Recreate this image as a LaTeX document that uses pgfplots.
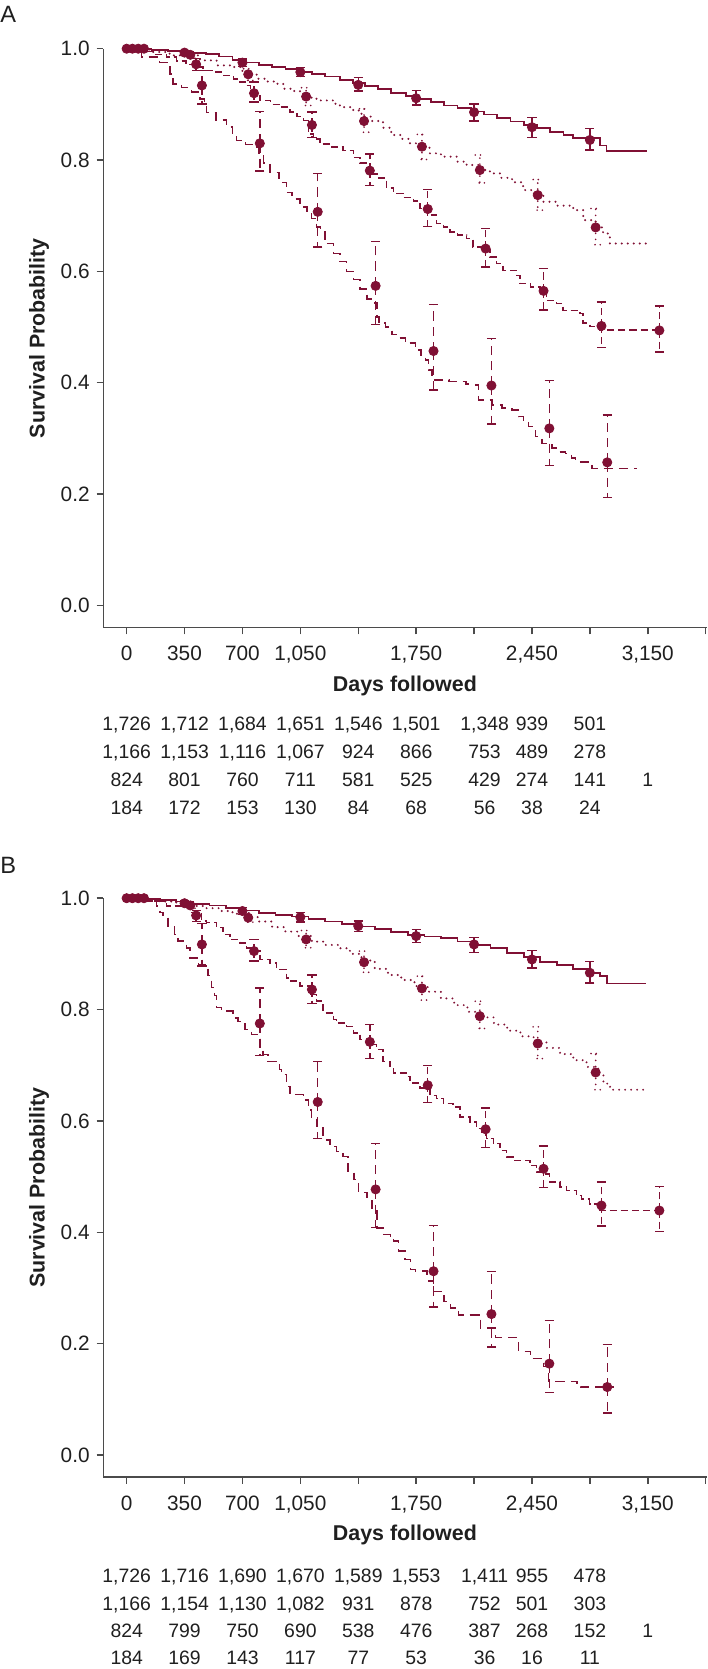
\documentclass[border=0pt]{standalone}
\usepackage{fontspec}
\setmainfont{Liberation Sans}
\usepackage{pgfplots}
\usepackage{pgfplotstable}
\pgfplotsset{compat=1.18}
\definecolor{km}{RGB}{128,16,52}
\definecolor{ax}{RGB}{75,75,75}

% ---------- Panel A ----------
\pgfplotstableread{
x y
0 1.000
60 0.999
150 0.998
250 0.996
330 0.994
400 0.992
480 0.990
560 0.986
640 0.980
720 0.975
800 0.971
880 0.967
960 0.963
1040 0.958
1120 0.954
1200 0.950
1290 0.944
1370 0.938
1440 0.933
1520 0.927
1600 0.921
1690 0.915
1760 0.910
1840 0.904
1920 0.898
2000 0.893
2080 0.887
2160 0.882
2240 0.876
2320 0.869
2400 0.863
2480 0.857
2560 0.851
2640 0.845
2700 0.840
2860 0.826
2900 0.816
3143 0.816
}\AoneL
\pgfplotstableread{
x y
0 1.000
140 0.994
260 0.988
443 0.979
544 0.970
645 0.967
700 0.960
735 0.954
786 0.946
850 0.941
907 0.937
947 0.928
1000 0.924
1048 0.919
1100 0.912
1148 0.907
1249 0.901
1289 0.895
1370 0.889
1420 0.878
1480 0.870
1550 0.858
1600 0.845
1660 0.838
1713 0.830
1780 0.822
1833 0.812
1900 0.806
1995 0.797
2055 0.791
2136 0.782
2196 0.776
2260 0.768
2330 0.760
2397 0.746
2450 0.740
2519 0.725
2600 0.718
2700 0.710
2760 0.692
2835 0.679
2880 0.668
2921 0.650
3143 0.650
}\AtwoL
\pgfplotstableread{
x y
0 1.000
90 0.995
160 0.990
242 0.985
300 0.978
360 0.972
423 0.967
463 0.961
524 0.958
580 0.952
645 0.946
685 0.940
725 0.934
750 0.925
780 0.915
806 0.907
870 0.900
927 0.895
987 0.886
1030 0.878
1068 0.871
1098 0.847
1128 0.838
1168 0.829
1240 0.823
1309 0.817
1370 0.805
1410 0.795
1450 0.784
1490 0.775
1512 0.768
1572 0.750
1612 0.740
1670 0.733
1733 0.726
1773 0.713
1824 0.701
1874 0.686
1914 0.680
1955 0.671
2000 0.665
2055 0.659
2095 0.644
2170 0.638
2195 0.626
2236 0.614
2276 0.602
2357 0.593
2377 0.578
2440 0.572
2498 0.566
2538 0.548
2598 0.542
2639 0.530
2739 0.524
2759 0.507
2800 0.501
2860 0.495
3220 0.495
}\AthreeL
\pgfplotstableread{
x y
0 1.000
90 0.985
200 0.975
262 0.955
280 0.937
332 0.930
393 0.922
443 0.910
470 0.900
483 0.885
540 0.872
604 0.859
640 0.845
665 0.835
720 0.828
766 0.823
800 0.812
826 0.795
866 0.778
920 0.760
967 0.742
1000 0.730
1047 0.716
1090 0.705
1118 0.695
1148 0.680
1172 0.672
1199 0.650
1249 0.632
1290 0.618
1330 0.600
1370 0.585
1410 0.568
1453 0.550
1494 0.543
1514 0.518
1524 0.507
1564 0.500
1604 0.487
1645 0.480
1685 0.471
1745 0.459
1780 0.450
1806 0.441
1826 0.423
1846 0.405
1950 0.402
2050 0.398
2108 0.396
2128 0.369
2209 0.360
2270 0.355
2330 0.351
2370 0.339
2400 0.330
2430 0.321
2471 0.303
2511 0.291
2570 0.283
2612 0.276
2652 0.273
2690 0.265
2713 0.258
2813 0.246
3085 0.246
}\AfourL
\pgfplotstableread{
x y lo hi
350 0.993 0.989 0.997
700 0.975 0.968 0.982
1050 0.958 0.950 0.966
1400 0.935 0.924 0.948
1750 0.911 0.899 0.925
2100 0.886 0.870 0.901
2450 0.859 0.841 0.876
2800 0.836 0.818 0.857
}\AoneM
\pgfplotstableread{
x y lo hi
385 0.989 0.983 0.994
735 0.954 0.943 0.964
1085 0.914 0.898 0.930
1435 0.870 0.850 0.892
1785 0.824 0.801 0.846
2135 0.782 0.759 0.809
2485 0.737 0.710 0.765
2835 0.679 0.648 0.713
}\AtwoM
\pgfplotstableread{
x y lo hi
420 0.972 0.961 0.982
770 0.920 0.904 0.940
1120 0.863 0.841 0.886
1470 0.781 0.754 0.811
1820 0.712 0.681 0.747
2170 0.641 0.608 0.677
2520 0.565 0.531 0.605
2870 0.502 0.463 0.545
3220 0.494 0.455 0.538
}\AthreeM
\pgfplotstableread{
x y lo hi
455 0.934 0.901 0.961
805 0.830 0.780 0.887
1155 0.707 0.644 0.776
1505 0.574 0.505 0.654
1855 0.457 0.387 0.541
2205 0.395 0.326 0.480
2555 0.318 0.251 0.404
2905 0.257 0.194 0.342
}\AfourM

% ---------- Panel B ----------
\pgfplotstableread{
x y
0 1.000
100 0.999
200 0.997
300 0.994
400 0.990
500 0.987
600 0.983
700 0.978
800 0.974
900 0.970
1000 0.967
1100 0.963
1200 0.958
1300 0.954
1400 0.949
1500 0.945
1600 0.939
1700 0.934
1800 0.931
1900 0.928
2000 0.922
2100 0.916
2200 0.910
2300 0.902
2400 0.894
2500 0.886
2600 0.880
2700 0.873
2790 0.866
2861 0.860
2902 0.847
3137 0.847
}\BoneL
\pgfplotstableread{
x y
0 1.000
100 0.998
200 0.994
300 0.990
400 0.986
480 0.982
560 0.977
640 0.972
720 0.966
800 0.958
880 0.948
960 0.940
1040 0.932
1120 0.922
1200 0.916
1280 0.910
1350 0.900
1420 0.888
1500 0.873
1580 0.862
1660 0.853
1740 0.842
1820 0.832
1900 0.820
1980 0.808
2060 0.796
2140 0.786
2220 0.773
2300 0.762
2380 0.752
2460 0.741
2540 0.731
2620 0.720
2700 0.709
2780 0.697
2850 0.683
2882 0.667
2922 0.656
3143 0.656
}\BtwoL
\pgfplotstableread{
x y
0 1.000
120 0.995
241 0.986
383 0.974
453 0.959
483 0.956
544 0.947
584 0.935
624 0.926
685 0.920
725 0.911
775 0.905
805 0.890
866 0.884
906 0.872
966 0.857
987 0.851
1048 0.842
1108 0.827
1148 0.815
1188 0.794
1249 0.782
1269 0.776
1330 0.770
1370 0.758
1410 0.746
1471 0.737
1511 0.728
1551 0.707
1591 0.698
1612 0.686
1693 0.680
1713 0.668
1773 0.659
1833 0.646
1873 0.640
1914 0.631
1974 0.625
2014 0.607
2075 0.598
2115 0.586
2145 0.577
2176 0.568
2216 0.559
2256 0.547
2296 0.535
2337 0.529
2437 0.520
2477 0.508
2517 0.505
2557 0.490
2618 0.481
2659 0.475
2719 0.466
2749 0.460
2799 0.451
2860 0.439
3214 0.439
}\BthreeL
\pgfplotstableread{
x y
0 1.000
120 0.995
181 0.986
201 0.974
220 0.969
250 0.950
290 0.935
312 0.923
362 0.911
382 0.893
433 0.881
483 0.876
493 0.861
513 0.840
530 0.825
543 0.804
574 0.797
644 0.785
674 0.779
714 0.764
754 0.755
795 0.752
805 0.734
825 0.719
855 0.707
925 0.692
936 0.683
966 0.662
987 0.647
1068 0.638
1098 0.620
1118 0.605
1148 0.590
1188 0.569
1209 0.566
1229 0.554
1269 0.545
1309 0.536
1339 0.509
1373 0.495
1403 0.471
1453 0.462
1483 0.444
1513 0.408
1554 0.396
1594 0.390
1614 0.384
1644 0.366
1684 0.351
1715 0.333
1745 0.330
1816 0.324
1826 0.312
1856 0.294
1917 0.276
1957 0.264
2007 0.251
2128 0.251
2138 0.228
2229 0.211
2330 0.211
2370 0.186
2441 0.173
2521 0.159
2551 0.132
2722 0.129
2743 0.122
2944 0.122
}\BfourL
\pgfplotstableread{
x y lo hi
350 0.991 0.987 0.995
700 0.977 0.971 0.983
1050 0.966 0.957 0.974
1400 0.950 0.940 0.959
1750 0.932 0.920 0.944
2100 0.917 0.903 0.929
2450 0.890 0.875 0.906
2800 0.866 0.848 0.886
}\BoneM
\pgfplotstableread{
x y lo hi
385 0.987 0.982 0.992
735 0.965 0.957 0.974
1085 0.926 0.911 0.942
1435 0.885 0.867 0.905
1785 0.838 0.817 0.860
2135 0.788 0.766 0.815
2485 0.739 0.712 0.769
2835 0.687 0.656 0.721
}\BtwoM
\pgfplotstableread{
x y lo hi
420 0.969 0.958 0.978
770 0.905 0.887 0.926
1120 0.836 0.811 0.862
1470 0.742 0.712 0.773
1820 0.664 0.633 0.700
2170 0.585 0.552 0.623
2520 0.514 0.480 0.555
2870 0.448 0.411 0.490
3220 0.439 0.401 0.482
}\BthreeM
\pgfplotstableread{
x y lo hi
455 0.917 0.878 0.955
805 0.775 0.718 0.839
1155 0.634 0.568 0.707
1505 0.477 0.409 0.559
1855 0.330 0.266 0.412
2205 0.253 0.194 0.330
2555 0.164 0.112 0.241
2905 0.122 0.075 0.198
}\BfourM
\pgfplotstableread{
x y
0 1
35 1
70 1
105 1
}\StartM

\pgfplotsset{
  kmaxis/.style={
    scale only axis, width=301.6pt, height=289.5pt,
    xmin=-141, xmax=3505, ymin=-0.04, ymax=1.0,
    axis lines*=left,
    axis line style={ax, line width=0.75pt},
    tick style={ax, line width=0.75pt},
    tick align=outside, major tick length=3.3pt,
    xtick={0,350,...,3500},
    xticklabels={0,350,700,{1,050},{},{1,750},{},{2,450},{},{3,150},{}},
    ytick={0,0.2,0.4,0.6,0.8,1.0},
    yticklabels={0.0,0.2,0.4,0.6,0.8,1.0},
    ticklabel style={font=\fontsize{10.4}{12}\selectfont, text=black!88},
    xticklabel style={yshift=-2.5pt},
    xlabel={Days followed}, ylabel={Survival Probability},
    every axis x label/.style={at={(axis description cs:0.5,-0.1)}, anchor=center,
      font=\fontsize{10.7}{12}\selectfont\bfseries, text=black!88},
    every axis y label/.style={at={(axis description cs:-0.1066,0.5)}, rotate=90, anchor=center,
      font=\fontsize{10.7}{12}\selectfont\bfseries, text=black!88},
    clip=false,
  },
  lone/.style={km, line width=0.85pt, solid},
  ltwo/.style={km, line width=1.1pt, line cap=round, dash pattern=on 0pt off 3pt},
  lthree/.style={km, line width=0.75pt, dash pattern=on 3.6pt off 2pt},
  lfour/.style={km, line width=0.75pt, dash pattern=on 4.6pt off 3pt},
  mk/.style 2 args={only marks, mark=*, mark size=2.3pt, color=km,
    error bars/y dir=both, error bars/y explicit,
    error bars/error mark=|,
    error bars/error mark options={#2, mark size=2.3pt},
    error bars/error bar style={#1}},
}
\newcommand\riskfont{\fontsize{9.7}{11}\selectfont}
\newcommand\riskrow[2]{%
  \foreach \v [count=\i from 0] in {#2} {%
    \pgfmathsetmacro\cx{{63.35,92.3,121.25,150.2,179.15,208.1,242.3,266.0,294.95,323.9}[\i]}%
    \node[font=\riskfont, text=black!88, anchor=base, inner sep=0pt] at (\cx pt, #1) {\v};
  }%
}
\newcommand\mkplot[3]{%
  \addplot[mk={#1}{#2}]
  table[x=x,y=y,y error plus expr=\thisrow{hi}-\thisrow{y},y error minus expr=\thisrow{y}-\thisrow{lo}] {#3};
}

\begin{document}
\begin{tikzpicture}
\useasboundingbox (0,0) rectangle (353.5pt,-834.5pt);
\node[anchor=base west, inner sep=0pt, font=\fontsize{11.8}{13}\selectfont, text=black!88] at (0pt,-11.5pt) {A};
\node[anchor=base west, inner sep=0pt, font=\fontsize{11.8}{13}\selectfont, text=black!88] at (0pt,-436.9pt) {B};

% ---------------- Panel A ----------------
\begin{axis}[kmaxis, at={(51.65pt,-313.85pt)}, anchor=south west]
\addplot[lone, const plot] table[x=x,y=y] {\AoneL};
\addplot[ltwo, const plot] table[x=x,y=y] {\AtwoL};
\addplot[lthree, const plot] table[x=x,y=y] {\AthreeL};
\addplot[lfour, const plot] table[x=x,y=y] {\AfourL};
\mkplot{lone, line width=0.7pt}{km, solid, line width=0.7pt}{\AoneM}
\mkplot{ltwo, line width=0.9pt}{km, line width=0.9pt, line cap=round, dash pattern=on 0pt off 2.6pt}{\AtwoM}
\mkplot{lthree, line width=0.7pt}{km, solid, line width=0.7pt}{\AthreeM}
\mkplot{lfour, line width=0.7pt}{km, solid, line width=0.7pt}{\AfourM}
\addplot[only marks, mark=*, mark size=2.3pt, color=km] table[x=x,y=y] {\StartM};
\end{axis}
\riskrow{-365.35pt}{{1,726},{1,712},{1,684},{1,651},{1,546},{1,501},{1,348},939,501}
\riskrow{-379.4pt}{{1,166},{1,153},{1,116},{1,067},924,866,753,489,278}
\riskrow{-393.4pt}{824,801,760,711,581,525,429,274,141,1}
\riskrow{-407.1pt}{184,172,153,130,84,68,56,38,24}

% ---------------- Panel B ----------------
\begin{axis}[kmaxis, at={(51.65pt,-738.6pt)}, anchor=south west]
\addplot[lone, const plot] table[x=x,y=y] {\BoneL};
\addplot[ltwo, const plot] table[x=x,y=y] {\BtwoL};
\addplot[lthree, const plot] table[x=x,y=y] {\BthreeL};
\addplot[lfour, const plot] table[x=x,y=y] {\BfourL};
\mkplot{lone, line width=0.7pt}{km, solid, line width=0.7pt}{\BoneM}
\mkplot{ltwo, line width=0.9pt}{km, line width=0.9pt, line cap=round, dash pattern=on 0pt off 2.6pt}{\BtwoM}
\mkplot{lthree, line width=0.7pt}{km, solid, line width=0.7pt}{\BthreeM}
\mkplot{lfour, line width=0.7pt}{km, solid, line width=0.7pt}{\BfourM}
\addplot[only marks, mark=*, mark size=2.3pt, color=km] table[x=x,y=y] {\StartM};
\end{axis}
\riskrow{-791.2pt}{{1,726},{1,716},{1,690},{1,670},{1,589},{1,553},{1,411},955,478}
\riskrow{-805pt}{{1,166},{1,154},{1,130},{1,082},931,878,752,501,303}
\riskrow{-818.8pt}{824,799,750,690,538,476,387,268,152,1}
\riskrow{-832.4pt}{184,169,143,117,77,53,36,16,11}
\end{tikzpicture}
\end{document}
